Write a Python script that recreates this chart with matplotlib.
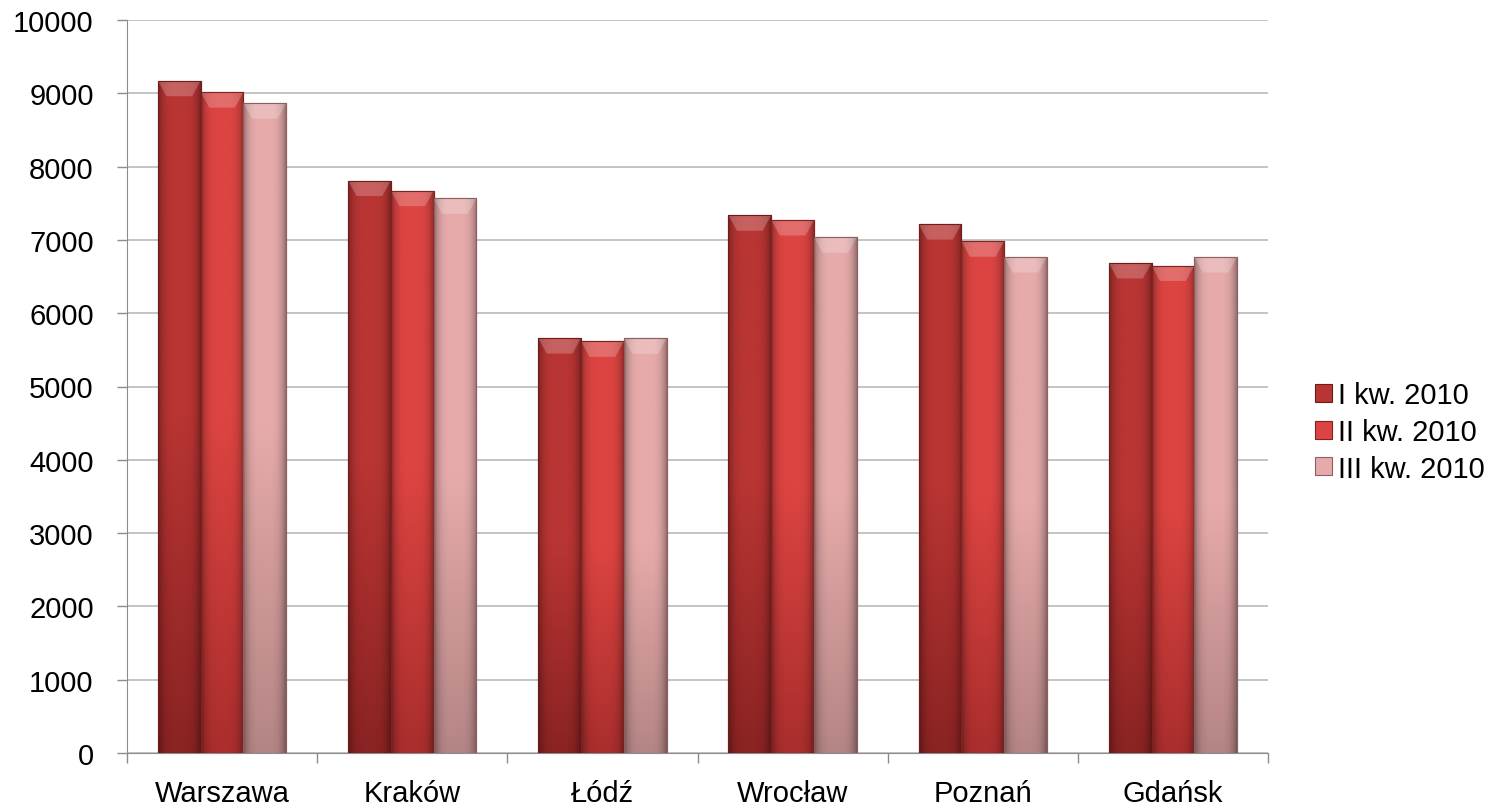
import numpy as np
import matplotlib
matplotlib.use("Agg")
import matplotlib.pyplot as plt
from matplotlib.colors import LinearSegmentedColormap

plt.rcParams['font.family'] = ['Liberation Sans', 'DejaVu Sans']

cities = ["Warszawa", "Kraków", "Łódź", "Wrocław", "Poznań", "Gdańsk"]
series_names = ["I kw. 2010", "II kw. 2010", "III kw. 2010"]
q1 = [9170, 7810, 5660, 7335, 7215, 6685]
q2 = [9015, 7670, 5615, 7270, 6980, 6650]
q3 = [8865, 7565, 5655, 7035, 6765, 6765]
yticks = list(range(0, 10001, 1000))

colors_top = ["#B83533", "#DC4441", "#E6AAAA"]
colors_bot = ["#8A2323", "#A92E2D", "#B58585"]
edge = ["#6E1C1C", "#7E2222", "#8C6060"]

fig = plt.figure(figsize=(14.99, 8.12), dpi=100)
ax = fig.add_axes([127/1499, 1-754/812, (1268-127)/1499, (754-21)/812])

n = len(cities)
x = np.arange(n)
w = 0.225
data = [q1, q2, q3]
for i, vals in enumerate(data):
    offs = (i - 1) * w
    bars = ax.bar(x + offs, vals, width=w, color=colors_top[i], edgecolor=edge[i],
                  linewidth=0.8, zorder=3, label=series_names[i])
    cmap = LinearSegmentedColormap.from_list("g%d" % i, [colors_bot[i], colors_top[i], colors_top[i]])
    for b in bars:
        bx, by = b.get_x(), b.get_y()
        bw, bh = b.get_width(), b.get_height()
        grad = np.linspace(0, 1, 256).reshape(-1, 1)
        im = ax.imshow(grad, extent=[bx, bx + bw, by, by + bh], origin="lower",
                       cmap=cmap, aspect="auto", zorder=3.1)
        im.set_clip_path(b)
        hgrad = np.abs(np.linspace(-1, 1, 64)).reshape(1, -1) ** 4
        shade = np.zeros((1, 64, 4))
        shade[..., 3] = hgrad[0] * 0.35
        im2 = ax.imshow(shade, extent=[bx, bx + bw, by, by + bh], aspect="auto", zorder=3.2)
        im2.set_clip_path(b)
        cap = 0.035 * 10000 * 0.6
        ax.fill([bx, bx + bw, bx + bw * 0.8, bx + bw * 0.2],
                [by + bh, by + bh, by + bh - cap, by + bh - cap],
                color="white", alpha=0.22, zorder=3.3, lw=0)
        ax.add_patch(plt.Rectangle((bx, by), bw, bh, fill=False, edgecolor=edge[i],
                                   linewidth=0.8, zorder=3.4))

ax.set_xlim(-0.5, n - 0.5)
ax.set_ylim(0, 10000)
ax.set_yticks(yticks)
ax.set_yticklabels([str(v) for v in yticks], fontsize=21)
ax.yaxis.grid(True, color="#BFBFBF", linewidth=1.3, zorder=0)
ax.set_axisbelow(True)

ax.set_xticks(x)
ax.set_xticklabels(cities, fontsize=21)
ax.tick_params(axis="x", length=0, pad=19)
ax.set_xticks(np.arange(-0.5, n, 1.0), minor=True)
ax.tick_params(axis="x", which="minor", length=7, color="#8C8C8C", width=1)
ax.tick_params(axis="y", length=7, color="#8C8C8C", width=1, pad=17)

for s in ["top", "right"]:
    ax.spines[s].set_visible(False)
ax.spines["left"].set_color("#8C8C8C")
ax.spines["bottom"].set_color("#8C8C8C")

leg = ax.legend(loc="center left", bbox_to_anchor=(1.018, 0.438), frameon=False,
                fontsize=21, handlelength=0.58, handleheight=0.58, handletextpad=0.2,
                labelspacing=0.3)

fig.savefig("out.png", dpi=100)
